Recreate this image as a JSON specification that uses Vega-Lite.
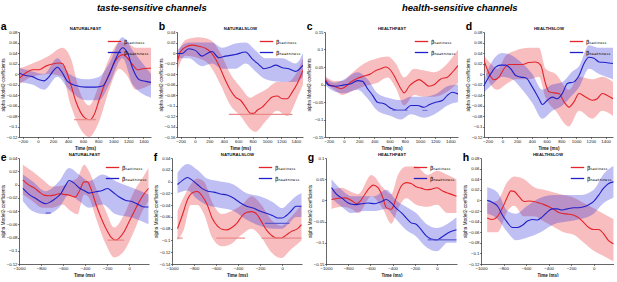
{
"$schema": "https://vega.github.io/schema/vega-lite/v6.json",
"padding": {"left": 0, "top": 2, "right": 0, "bottom": 0},
"background": "white",
"config": {
 "view": {"stroke": null},
 "font": "Liberation Sans",
 "axis": {"labelFontSize": 4.3, "labelFont": "Liberation Sans", "titleFont": "Liberation Sans", "titleFontSize": 4.7, "titleFontWeight": "normal", "tickSize": 1.5, "labelPadding": 0.5, "titlePadding": 0.5, "domainColor": "#000", "tickColor": "#000", "labelColor": "#111", "titleColor": "#111", "domainWidth": 0.6, "tickWidth": 0.5, "grid": false, "labelFlush": false, "labelOverlap": false},
 "axisBottom": {"titleFontWeight": "bold", "titleFontSize": 4.5, "format": "d", "labelPadding": 1, "titlePadding": 1.5},
 "axisTop": {"titleFontWeight": "bold", "titleFontSize": 4.3, "titlePadding": 1.5},
 "title": {"fontSize": 10.5, "fontWeight": "bold", "anchor": "start", "frame": "bounds", "offset": -6, "font": "Liberation Sans", "color": "#000"},
 "legend": {"orient": "top-right", "offset": 2, "symbolType": "stroke", "symbolSize": 180, "symbolStrokeWidth": 1.3, "labelFontSize": 5.5, "labelFont": "DejaVu Sans", "rowPadding": 0, "padding": 0, "labelOffset": 2}
},
"datasets": {
"L": [
{"p":"a","s":"taste","t":-250,"v":-0.009},{"p":"a","s":"taste","t":-161,"v":0.002},{"p":"a","s":"taste","t":-73,"v":0.008},{"p":"a","s":"taste","t":16,"v":0.008},{"p":"a","s":"taste","t":104,"v":0.015},{"p":"a","s":"taste","t":193,"v":0.019},{"p":"a","s":"taste","t":282,"v":0.021},{"p":"a","s":"taste","t":326,"v":0.02},{"p":"a","s":"taste","t":370,"v":0.008},{"p":"a","s":"taste","t":437,"v":-0.02},{"p":"a","s":"taste","t":503,"v":-0.052},{"p":"a","s":"taste","t":570,"v":-0.074},{"p":"a","s":"taste","t":636,"v":-0.085},{"p":"a","s":"taste","t":689,"v":-0.087},{"p":"a","s":"taste","t":747,"v":-0.077},{"p":"a","s":"taste","t":813,"v":-0.049},{"p":"a","s":"taste","t":880,"v":-0.022},{"p":"a","s":"taste","t":946,"v":0.0},{"p":"a","s":"taste","t":1013,"v":0.021},{"p":"a","s":"taste","t":1079,"v":0.034},{"p":"a","s":"taste","t":1132,"v":0.037},{"p":"a","s":"taste","t":1190,"v":0.03},{"p":"a","s":"taste","t":1256,"v":0.018},{"p":"a","s":"taste","t":1323,"v":0.008},{"p":"a","s":"taste","t":1389,"v":0.01},{"p":"a","s":"taste","t":1456,"v":0.011},{"p":"a","s":"taste","t":1500,"v":0.011},
{"p":"a","s":"health","t":-250,"v":0.002},{"p":"a","s":"health","t":-161,"v":-0.003},{"p":"a","s":"health","t":-73,"v":-0.005},{"p":"a","s":"health","t":16,"v":-0.011},{"p":"a","s":"health","t":82,"v":-0.013},{"p":"a","s":"health","t":149,"v":-0.005},{"p":"a","s":"health","t":215,"v":0.008},{"p":"a","s":"health","t":259,"v":0.013},{"p":"a","s":"health","t":326,"v":0.002},{"p":"a","s":"health","t":392,"v":-0.014},{"p":"a","s":"health","t":503,"v":-0.022},{"p":"a","s":"health","t":636,"v":-0.025},{"p":"a","s":"health","t":769,"v":-0.025},{"p":"a","s":"health","t":858,"v":-0.023},{"p":"a","s":"health","t":946,"v":-0.001},{"p":"a","s":"health","t":1035,"v":0.03},{"p":"a","s":"health","t":1123,"v":0.05},{"p":"a","s":"health","t":1190,"v":0.04},{"p":"a","s":"health","t":1256,"v":0.011},{"p":"a","s":"health","t":1345,"v":-0.011},{"p":"a","s":"health","t":1433,"v":-0.014},{"p":"a","s":"health","t":1500,"v":-0.016},
{"p":"b","s":"taste","t":-250,"v":-0.02},{"p":"b","s":"taste","t":-204,"v":0.002},{"p":"b","s":"taste","t":-134,"v":0.011},{"p":"b","s":"taste","t":-41,"v":0.015},{"p":"b","s":"taste","t":52,"v":0.013},{"p":"b","s":"taste","t":145,"v":0.009},{"p":"b","s":"taste","t":214,"v":0.002},{"p":"b","s":"taste","t":284,"v":-0.011},{"p":"b","s":"taste","t":353,"v":-0.03},{"p":"b","s":"taste","t":423,"v":-0.052},{"p":"b","s":"taste","t":493,"v":-0.071},{"p":"b","s":"taste","t":562,"v":-0.084},{"p":"b","s":"taste","t":632,"v":-0.09},{"p":"b","s":"taste","t":702,"v":-0.103},{"p":"b","s":"taste","t":771,"v":-0.115},{"p":"b","s":"taste","t":818,"v":-0.115},{"p":"b","s":"taste","t":864,"v":-0.109},{"p":"b","s":"taste","t":934,"v":-0.103},{"p":"b","s":"taste","t":1003,"v":-0.093},{"p":"b","s":"taste","t":1073,"v":-0.084},{"p":"b","s":"taste","t":1143,"v":-0.082},{"p":"b","s":"taste","t":1212,"v":-0.087},{"p":"b","s":"taste","t":1282,"v":-0.087},{"p":"b","s":"taste","t":1352,"v":-0.074},{"p":"b","s":"taste","t":1421,"v":-0.058},{"p":"b","s":"taste","t":1500,"v":-0.033},
{"p":"b","s":"health","t":-250,"v":-0.001},{"p":"b","s":"health","t":-180,"v":-0.001},{"p":"b","s":"health","t":-88,"v":0.008},{"p":"b","s":"health","t":5,"v":0.005},{"p":"b","s":"health","t":98,"v":-0.006},{"p":"b","s":"health","t":168,"v":-0.001},{"p":"b","s":"health","t":237,"v":0.003},{"p":"b","s":"health","t":330,"v":-0.009},{"p":"b","s":"health","t":423,"v":-0.006},{"p":"b","s":"health","t":562,"v":-0.003},{"p":"b","s":"health","t":702,"v":0.002},{"p":"b","s":"health","t":794,"v":-0.011},{"p":"b","s":"health","t":887,"v":-0.022},{"p":"b","s":"health","t":957,"v":-0.03},{"p":"b","s":"health","t":1050,"v":-0.027},{"p":"b","s":"health","t":1119,"v":-0.023},{"p":"b","s":"health","t":1212,"v":-0.028},{"p":"b","s":"health","t":1305,"v":-0.03},{"p":"b","s":"health","t":1398,"v":-0.035},{"p":"b","s":"health","t":1500,"v":-0.023},
{"p":"c","s":"taste","t":-250,"v":0.016},{"p":"c","s":"taste","t":-193,"v":-0.001},{"p":"c","s":"taste","t":-128,"v":-0.005},{"p":"c","s":"taste","t":-40,"v":-0.012},{"p":"c","s":"taste","t":26,"v":-0.005},{"p":"c","s":"taste","t":91,"v":0.007},{"p":"c","s":"taste","t":179,"v":0.018},{"p":"c","s":"taste","t":266,"v":0.024},{"p":"c","s":"taste","t":354,"v":0.031},{"p":"c","s":"taste","t":419,"v":0.04},{"p":"c","s":"taste","t":485,"v":0.045},{"p":"c","s":"taste","t":551,"v":0.05},{"p":"c","s":"taste","t":616,"v":0.04},{"p":"c","s":"taste","t":682,"v":0.016},{"p":"c","s":"taste","t":748,"v":-0.012},{"p":"c","s":"taste","t":791,"v":-0.024},{"p":"c","s":"taste","t":857,"v":-0.005},{"p":"c","s":"taste","t":923,"v":0.007},{"p":"c","s":"taste","t":988,"v":0.014},{"p":"c","s":"taste","t":1054,"v":0.005},{"p":"c","s":"taste","t":1119,"v":-0.005},{"p":"c","s":"taste","t":1185,"v":-0.001},{"p":"c","s":"taste","t":1273,"v":0.016},{"p":"c","s":"taste","t":1360,"v":0.021},{"p":"c","s":"taste","t":1426,"v":0.035},{"p":"c","s":"taste","t":1500,"v":0.054},
{"p":"c","s":"health","t":-250,"v":0.011},{"p":"c","s":"health","t":-193,"v":-0.003},{"p":"c","s":"health","t":-106,"v":-0.005},{"p":"c","s":"health","t":4,"v":-0.001},{"p":"c","s":"health","t":91,"v":0.002},{"p":"c","s":"health","t":179,"v":0.011},{"p":"c","s":"health","t":244,"v":0.009},{"p":"c","s":"health","t":310,"v":-0.012},{"p":"c","s":"health","t":376,"v":-0.031},{"p":"c","s":"health","t":441,"v":-0.051},{"p":"c","s":"health","t":529,"v":-0.055},{"p":"c","s":"health","t":616,"v":-0.068},{"p":"c","s":"health","t":704,"v":-0.074},{"p":"c","s":"health","t":791,"v":-0.074},{"p":"c","s":"health","t":879,"v":-0.06},{"p":"c","s":"health","t":966,"v":-0.06},{"p":"c","s":"health","t":1054,"v":-0.065},{"p":"c","s":"health","t":1119,"v":-0.058},{"p":"c","s":"health","t":1207,"v":-0.051},{"p":"c","s":"health","t":1294,"v":-0.046},{"p":"c","s":"health","t":1360,"v":-0.031},{"p":"c","s":"health","t":1426,"v":-0.022},{"p":"c","s":"health","t":1500,"v":-0.027},
{"p":"d","s":"taste","t":-250,"v":0.026},{"p":"d","s":"taste","t":-182,"v":0.001},{"p":"d","s":"taste","t":-114,"v":-0.011},{"p":"d","s":"taste","t":-47,"v":-0.006},{"p":"d","s":"taste","t":21,"v":0.01},{"p":"d","s":"taste","t":89,"v":0.018},{"p":"d","s":"taste","t":180,"v":0.018},{"p":"d","s":"taste","t":270,"v":0.018},{"p":"d","s":"taste","t":360,"v":0.022},{"p":"d","s":"taste","t":451,"v":0.023},{"p":"d","s":"taste","t":519,"v":0.017},{"p":"d","s":"taste","t":578,"v":-0.015},{"p":"d","s":"taste","t":632,"v":-0.034},{"p":"d","s":"taste","t":700,"v":-0.036},{"p":"d","s":"taste","t":767,"v":-0.037},{"p":"d","s":"taste","t":835,"v":-0.053},{"p":"d","s":"taste","t":903,"v":-0.063},{"p":"d","s":"taste","t":971,"v":-0.053},{"p":"d","s":"taste","t":1039,"v":-0.037},{"p":"d","s":"taste","t":1129,"v":-0.044},{"p":"d","s":"taste","t":1220,"v":-0.05},{"p":"d","s":"taste","t":1287,"v":-0.047},{"p":"d","s":"taste","t":1355,"v":-0.037},{"p":"d","s":"taste","t":1423,"v":-0.041},{"p":"d","s":"taste","t":1500,"v":-0.047},
{"p":"d","s":"health","t":-250,"v":-0.022},{"p":"d","s":"health","t":-160,"v":0.0},{"p":"d","s":"health","t":-92,"v":0.013},{"p":"d","s":"health","t":-24,"v":0.017},{"p":"d","s":"health","t":44,"v":0.017},{"p":"d","s":"health","t":112,"v":0.01},{"p":"d","s":"health","t":180,"v":-0.003},{"p":"d","s":"health","t":247,"v":-0.006},{"p":"d","s":"health","t":315,"v":-0.007},{"p":"d","s":"health","t":406,"v":-0.025},{"p":"d","s":"health","t":496,"v":-0.047},{"p":"d","s":"health","t":541,"v":-0.058},{"p":"d","s":"health","t":609,"v":-0.05},{"p":"d","s":"health","t":677,"v":-0.044},{"p":"d","s":"health","t":745,"v":-0.047},{"p":"d","s":"health","t":813,"v":-0.037},{"p":"d","s":"health","t":881,"v":-0.018},{"p":"d","s":"health","t":971,"v":-0.015},{"p":"d","s":"health","t":1039,"v":-0.003},{"p":"d","s":"health","t":1107,"v":0.02},{"p":"d","s":"health","t":1174,"v":0.032},{"p":"d","s":"health","t":1242,"v":0.03},{"p":"d","s":"health","t":1310,"v":0.023},{"p":"d","s":"health","t":1400,"v":0.022},{"p":"d","s":"health","t":1500,"v":0.02},
{"p":"e","s":"taste","t":-965,"v":0.007},{"p":"e","s":"taste","t":-909,"v":-0.001},{"p":"e","s":"taste","t":-864,"v":-0.005},{"p":"e","s":"taste","t":-818,"v":-0.011},{"p":"e","s":"taste","t":-773,"v":-0.016},{"p":"e","s":"taste","t":-727,"v":-0.017},{"p":"e","s":"taste","t":-682,"v":-0.016},{"p":"e","s":"taste","t":-636,"v":-0.014},{"p":"e","s":"taste","t":-591,"v":-0.015},{"p":"e","s":"taste","t":-545,"v":-0.016},{"p":"e","s":"taste","t":-491,"v":-0.019},{"p":"e","s":"taste","t":-455,"v":-0.011},{"p":"e","s":"taste","t":-409,"v":0.004},{"p":"e","s":"taste","t":-379,"v":0.004},{"p":"e","s":"taste","t":-348,"v":-0.006},{"p":"e","s":"taste","t":-303,"v":-0.029},{"p":"e","s":"taste","t":-258,"v":-0.049},{"p":"e","s":"taste","t":-212,"v":-0.066},{"p":"e","s":"taste","t":-167,"v":-0.079},{"p":"e","s":"taste","t":-121,"v":-0.084},{"p":"e","s":"taste","t":-91,"v":-0.081},{"p":"e","s":"taste","t":-45,"v":-0.071},{"p":"e","s":"taste","t":0,"v":-0.056},{"p":"e","s":"taste","t":45,"v":-0.041},{"p":"e","s":"taste","t":91,"v":-0.026},{"p":"e","s":"taste","t":136,"v":-0.014},{"p":"e","s":"taste","t":175,"v":-0.006},
{"p":"e","s":"health","t":-965,"v":-0.006},{"p":"e","s":"health","t":-909,"v":-0.015},{"p":"e","s":"health","t":-848,"v":-0.021},{"p":"e","s":"health","t":-803,"v":-0.026},{"p":"e","s":"health","t":-758,"v":-0.029},{"p":"e","s":"health","t":-712,"v":-0.026},{"p":"e","s":"health","t":-667,"v":-0.021},{"p":"e","s":"health","t":-621,"v":-0.014},{"p":"e","s":"health","t":-576,"v":-0.001},{"p":"e","s":"health","t":-545,"v":0.006},{"p":"e","s":"health","t":-500,"v":0.002},{"p":"e","s":"health","t":-455,"v":-0.005},{"p":"e","s":"health","t":-409,"v":-0.009},{"p":"e","s":"health","t":-364,"v":-0.013},{"p":"e","s":"health","t":-303,"v":-0.011},{"p":"e","s":"health","t":-242,"v":-0.009},{"p":"e","s":"health","t":-197,"v":-0.006},{"p":"e","s":"health","t":-152,"v":-0.011},{"p":"e","s":"health","t":-91,"v":-0.019},{"p":"e","s":"health","t":-30,"v":-0.024},{"p":"e","s":"health","t":30,"v":-0.026},{"p":"e","s":"health","t":91,"v":-0.031},{"p":"e","s":"health","t":136,"v":-0.034},{"p":"e","s":"health","t":175,"v":-0.034},
{"p":"f","s":"taste","t":-950,"v":-0.08},{"p":"f","s":"taste","t":-904,"v":-0.056},{"p":"f","s":"taste","t":-860,"v":-0.031},{"p":"f","s":"taste","t":-815,"v":-0.019},{"p":"f","s":"taste","t":-770,"v":-0.017},{"p":"f","s":"taste","t":-725,"v":-0.025},{"p":"f","s":"taste","t":-681,"v":-0.039},{"p":"f","s":"taste","t":-636,"v":-0.062},{"p":"f","s":"taste","t":-591,"v":-0.075},{"p":"f","s":"taste","t":-546,"v":-0.081},{"p":"f","s":"taste","t":-501,"v":-0.082},{"p":"f","s":"taste","t":-457,"v":-0.078},{"p":"f","s":"taste","t":-412,"v":-0.071},{"p":"f","s":"taste","t":-367,"v":-0.059},{"p":"f","s":"taste","t":-322,"v":-0.052},{"p":"f","s":"taste","t":-278,"v":-0.051},{"p":"f","s":"taste","t":-233,"v":-0.055},{"p":"f","s":"taste","t":-188,"v":-0.068},{"p":"f","s":"taste","t":-143,"v":-0.082},{"p":"f","s":"taste","t":-99,"v":-0.091},{"p":"f","s":"taste","t":-54,"v":-0.096},{"p":"f","s":"taste","t":-9,"v":-0.096},{"p":"f","s":"taste","t":36,"v":-0.091},{"p":"f","s":"taste","t":81,"v":-0.085},{"p":"f","s":"taste","t":140,"v":-0.08},{"p":"f","s":"taste","t":175,"v":-0.073},
{"p":"f","s":"health","t":-950,"v":-0.005},{"p":"f","s":"health","t":-904,"v":0.002},{"p":"f","s":"health","t":-860,"v":0.007},{"p":"f","s":"health","t":-815,"v":0.002},{"p":"f","s":"health","t":-770,"v":-0.005},{"p":"f","s":"health","t":-725,"v":-0.012},{"p":"f","s":"health","t":-681,"v":-0.016},{"p":"f","s":"health","t":-621,"v":-0.018},{"p":"f","s":"health","t":-561,"v":-0.021},{"p":"f","s":"health","t":-501,"v":-0.023},{"p":"f","s":"health","t":-442,"v":-0.028},{"p":"f","s":"health","t":-382,"v":-0.036},{"p":"f","s":"health","t":-322,"v":-0.042},{"p":"f","s":"health","t":-263,"v":-0.045},{"p":"f","s":"health","t":-203,"v":-0.05},{"p":"f","s":"health","t":-143,"v":-0.054},{"p":"f","s":"health","t":-84,"v":-0.058},{"p":"f","s":"health","t":-39,"v":-0.062},{"p":"f","s":"health","t":0,"v":-0.062},{"p":"f","s":"health","t":36,"v":-0.058},{"p":"f","s":"health","t":81,"v":-0.05},{"p":"f","s":"health","t":125,"v":-0.042},{"p":"f","s":"health","t":175,"v":-0.042},
{"p":"g","s":"taste","t":-950,"v":0.002},{"p":"g","s":"taste","t":-890,"v":0.005},{"p":"g","s":"taste","t":-830,"v":0.006},{"p":"g","s":"taste","t":-770,"v":0.0},{"p":"g","s":"taste","t":-725,"v":-0.008},{"p":"g","s":"taste","t":-695,"v":-0.003},{"p":"g","s":"taste","t":-651,"v":0.014},{"p":"g","s":"taste","t":-606,"v":0.03},{"p":"g","s":"taste","t":-576,"v":0.036},{"p":"g","s":"taste","t":-531,"v":0.03},{"p":"g","s":"taste","t":-487,"v":0.006},{"p":"g","s":"taste","t":-457,"v":-0.017},{"p":"g","s":"taste","t":-412,"v":-0.021},{"p":"g","s":"taste","t":-367,"v":0.006},{"p":"g","s":"taste","t":-322,"v":0.034},{"p":"g","s":"taste","t":-278,"v":0.042},{"p":"g","s":"taste","t":-233,"v":0.04},{"p":"g","s":"taste","t":-188,"v":0.032},{"p":"g","s":"taste","t":-143,"v":0.029},{"p":"g","s":"taste","t":-99,"v":0.025},{"p":"g","s":"taste","t":-54,"v":0.026},{"p":"g","s":"taste","t":0,"v":0.03},{"p":"g","s":"taste","t":51,"v":0.022},{"p":"g","s":"taste","t":110,"v":0.016},{"p":"g","s":"taste","t":175,"v":0.01},
{"p":"g","s":"health","t":-950,"v":0.03},{"p":"g","s":"health","t":-904,"v":0.014},{"p":"g","s":"health","t":-860,"v":0.006},{"p":"g","s":"health","t":-800,"v":-0.006},{"p":"g","s":"health","t":-740,"v":-0.01},{"p":"g","s":"health","t":-681,"v":-0.008},{"p":"g","s":"health","t":-621,"v":-0.006},{"p":"g","s":"health","t":-561,"v":-0.008},{"p":"g","s":"health","t":-501,"v":-0.003},{"p":"g","s":"health","t":-457,"v":0.002},{"p":"g","s":"health","t":-412,"v":-0.006},{"p":"g","s":"health","t":-367,"v":-0.019},{"p":"g","s":"health","t":-322,"v":-0.029},{"p":"g","s":"health","t":-278,"v":-0.041},{"p":"g","s":"health","t":-233,"v":-0.053},{"p":"g","s":"health","t":-188,"v":-0.056},{"p":"g","s":"health","t":-143,"v":-0.069},{"p":"g","s":"health","t":-99,"v":-0.083},{"p":"g","s":"health","t":-54,"v":-0.091},{"p":"g","s":"health","t":0,"v":-0.093},{"p":"g","s":"health","t":51,"v":-0.085},{"p":"g","s":"health","t":110,"v":-0.075},{"p":"g","s":"health","t":175,"v":-0.069},
{"p":"h","s":"taste","t":-945,"v":-0.033},{"p":"h","s":"taste","t":-897,"v":-0.036},{"p":"h","s":"taste","t":-853,"v":-0.03},{"p":"h","s":"taste","t":-809,"v":-0.014},{"p":"h","s":"taste","t":-765,"v":0.007},{"p":"h","s":"taste","t":-735,"v":0.018},{"p":"h","s":"taste","t":-706,"v":0.017},{"p":"h","s":"taste","t":-662,"v":0.007},{"p":"h","s":"taste","t":-618,"v":-0.002},{"p":"h","s":"taste","t":-574,"v":-0.001},{"p":"h","s":"taste","t":-529,"v":-0.002},{"p":"h","s":"taste","t":-485,"v":-0.005},{"p":"h","s":"taste","t":-441,"v":-0.008},{"p":"h","s":"taste","t":-397,"v":-0.012},{"p":"h","s":"taste","t":-353,"v":-0.017},{"p":"h","s":"taste","t":-309,"v":-0.023},{"p":"h","s":"taste","t":-265,"v":-0.025},{"p":"h","s":"taste","t":-221,"v":-0.026},{"p":"h","s":"taste","t":-176,"v":-0.028},{"p":"h","s":"taste","t":-132,"v":-0.033},{"p":"h","s":"taste","t":-88,"v":-0.042},{"p":"h","s":"taste","t":-44,"v":-0.051},{"p":"h","s":"taste","t":0,"v":-0.055},{"p":"h","s":"taste","t":44,"v":-0.055},{"p":"h","s":"taste","t":88,"v":-0.063},{"p":"h","s":"taste","t":132,"v":-0.076},{"p":"h","s":"taste","t":175,"v":-0.082},
{"p":"h","s":"health","t":-945,"v":0.0},{"p":"h","s":"health","t":-897,"v":-0.004},{"p":"h","s":"health","t":-853,"v":-0.011},{"p":"h","s":"health","t":-809,"v":-0.028},{"p":"h","s":"health","t":-765,"v":-0.042},{"p":"h","s":"health","t":-721,"v":-0.051},{"p":"h","s":"health","t":-676,"v":-0.051},{"p":"h","s":"health","t":-632,"v":-0.047},{"p":"h","s":"health","t":-588,"v":-0.039},{"p":"h","s":"health","t":-544,"v":-0.036},{"p":"h","s":"health","t":-500,"v":-0.037},{"p":"h","s":"health","t":-456,"v":-0.031},{"p":"h","s":"health","t":-412,"v":-0.022},{"p":"h","s":"health","t":-368,"v":-0.016},{"p":"h","s":"health","t":-324,"v":-0.016},{"p":"h","s":"health","t":-279,"v":-0.018},{"p":"h","s":"health","t":-235,"v":-0.016},{"p":"h","s":"health","t":-176,"v":-0.014},{"p":"h","s":"health","t":-132,"v":-0.014},{"p":"h","s":"health","t":-88,"v":-0.012},{"p":"h","s":"health","t":-44,"v":-0.008},{"p":"h","s":"health","t":0,"v":-0.002},{"p":"h","s":"health","t":44,"v":0.01},{"p":"h","s":"health","t":88,"v":0.023},{"p":"h","s":"health","t":132,"v":0.032},{"p":"h","s":"health","t":175,"v":0.035}
],
"B": [
{"p":"a","s":"taste","t":-250,"lo":-0.02,"hi":0.01},{"p":"a","s":"taste","t":-73,"lo":-0.005,"hi":0.02},{"p":"a","s":"taste","t":149,"lo":0.0,"hi":0.035},{"p":"a","s":"taste","t":326,"lo":-0.005,"hi":0.05},{"p":"a","s":"taste","t":437,"lo":-0.06,"hi":0.03},{"p":"a","s":"taste","t":547,"lo":-0.1,"hi":-0.03},{"p":"a","s":"taste","t":680,"lo":-0.12,"hi":-0.06},{"p":"a","s":"taste","t":813,"lo":-0.09,"hi":-0.02},{"p":"a","s":"taste","t":946,"lo":-0.03,"hi":0.03},{"p":"a","s":"taste","t":1079,"lo":0.01,"hi":0.06},{"p":"a","s":"taste","t":1168,"lo":0.0,"hi":0.06},{"p":"a","s":"taste","t":1300,"lo":-0.03,"hi":0.05},{"p":"a","s":"taste","t":1500,"lo":-0.02,"hi":0.05},
{"p":"a","s":"health","t":-250,"lo":-0.015,"hi":0.012},{"p":"a","s":"health","t":-73,"lo":-0.02,"hi":0.005},{"p":"a","s":"health","t":82,"lo":-0.03,"hi":0.0},{"p":"a","s":"health","t":259,"lo":-0.005,"hi":0.03},{"p":"a","s":"health","t":415,"lo":-0.03,"hi":0.0},{"p":"a","s":"health","t":636,"lo":-0.05,"hi":-0.01},{"p":"a","s":"health","t":813,"lo":-0.05,"hi":-0.005},{"p":"a","s":"health","t":946,"lo":-0.02,"hi":0.02},{"p":"a","s":"health","t":1123,"lo":0.03,"hi":0.07},{"p":"a","s":"health","t":1256,"lo":-0.02,"hi":0.045},{"p":"a","s":"health","t":1500,"lo":-0.045,"hi":0.0},
{"p":"b","s":"taste","t":-250,"lo":-0.035,"hi":-0.005},{"p":"b","s":"taste","t":-134,"lo":-0.005,"hi":0.025},{"p":"b","s":"taste","t":52,"lo":-0.01,"hi":0.03},{"p":"b","s":"taste","t":214,"lo":-0.025,"hi":0.025},{"p":"b","s":"taste","t":353,"lo":-0.06,"hi":0.0},{"p":"b","s":"taste","t":493,"lo":-0.1,"hi":-0.04},{"p":"b","s":"taste","t":632,"lo":-0.12,"hi":-0.065},{"p":"b","s":"taste","t":771,"lo":-0.145,"hi":-0.085},{"p":"b","s":"taste","t":841,"lo":-0.15,"hi":-0.08},{"p":"b","s":"taste","t":980,"lo":-0.13,"hi":-0.07},{"p":"b","s":"taste","t":1143,"lo":-0.11,"hi":-0.055},{"p":"b","s":"taste","t":1282,"lo":-0.12,"hi":-0.055},{"p":"b","s":"taste","t":1421,"lo":-0.085,"hi":-0.035},{"p":"b","s":"taste","t":1500,"lo":-0.06,"hi":-0.01},
{"p":"b","s":"health","t":-250,"lo":-0.01,"hi":0.005},{"p":"b","s":"health","t":-88,"lo":-0.01,"hi":0.02},{"p":"b","s":"health","t":98,"lo":-0.025,"hi":0.02},{"p":"b","s":"health","t":237,"lo":-0.02,"hi":0.02},{"p":"b","s":"health","t":377,"lo":-0.03,"hi":0.01},{"p":"b","s":"health","t":562,"lo":-0.03,"hi":0.018},{"p":"b","s":"health","t":702,"lo":-0.02,"hi":0.02},{"p":"b","s":"health","t":841,"lo":-0.035,"hi":0.005},{"p":"b","s":"health","t":980,"lo":-0.05,"hi":-0.01},{"p":"b","s":"health","t":1212,"lo":-0.055,"hi":-0.01},{"p":"b","s":"health","t":1398,"lo":-0.055,"hi":-0.02},{"p":"b","s":"health","t":1500,"lo":-0.045,"hi":0.0},
{"p":"c","s":"taste","t":-250,"lo":0.005,"hi":0.025},{"p":"c","s":"taste","t":-128,"lo":-0.015,"hi":0.01},{"p":"c","s":"taste","t":-18,"lo":-0.03,"hi":0.01},{"p":"c","s":"taste","t":91,"lo":-0.02,"hi":0.03},{"p":"c","s":"taste","t":266,"lo":-0.005,"hi":0.06},{"p":"c","s":"taste","t":441,"lo":0.005,"hi":0.075},{"p":"c","s":"taste","t":573,"lo":0.02,"hi":0.08},{"p":"c","s":"taste","t":682,"lo":-0.01,"hi":0.06},{"p":"c","s":"taste","t":791,"lo":-0.06,"hi":0.02},{"p":"c","s":"taste","t":923,"lo":-0.03,"hi":0.045},{"p":"c","s":"taste","t":1054,"lo":-0.035,"hi":0.04},{"p":"c","s":"taste","t":1185,"lo":-0.035,"hi":0.035},{"p":"c","s":"taste","t":1360,"lo":-0.02,"hi":0.06},{"p":"c","s":"taste","t":1500,"lo":0.005,"hi":0.1},
{"p":"c","s":"health","t":-250,"lo":0.0,"hi":0.02},{"p":"c","s":"health","t":-128,"lo":-0.02,"hi":0.005},{"p":"c","s":"health","t":4,"lo":-0.025,"hi":0.015},{"p":"c","s":"health","t":179,"lo":-0.015,"hi":0.035},{"p":"c","s":"health","t":310,"lo":-0.04,"hi":0.015},{"p":"c","s":"health","t":441,"lo":-0.075,"hi":-0.025},{"p":"c","s":"health","t":616,"lo":-0.09,"hi":-0.04},{"p":"c","s":"health","t":748,"lo":-0.1,"hi":-0.045},{"p":"c","s":"health","t":879,"lo":-0.085,"hi":-0.035},{"p":"c","s":"health","t":1054,"lo":-0.095,"hi":-0.035},{"p":"c","s":"health","t":1229,"lo":-0.08,"hi":-0.025},{"p":"c","s":"health","t":1360,"lo":-0.06,"hi":-0.005},{"p":"c","s":"health","t":1500,"lo":-0.05,"hi":0.0},
{"p":"d","s":"taste","t":-250,"lo":0.01,"hi":0.035},{"p":"d","s":"taste","t":-160,"lo":-0.02,"hi":0.02},{"p":"d","s":"taste","t":-69,"lo":-0.03,"hi":0.01},{"p":"d","s":"taste","t":44,"lo":-0.02,"hi":0.035},{"p":"d","s":"taste","t":180,"lo":-0.01,"hi":0.045},{"p":"d","s":"taste","t":360,"lo":-0.01,"hi":0.05},{"p":"d","s":"taste","t":496,"lo":-0.005,"hi":0.05},{"p":"d","s":"taste","t":587,"lo":-0.045,"hi":0.01},{"p":"d","s":"taste","t":722,"lo":-0.07,"hi":0.0},{"p":"d","s":"taste","t":903,"lo":-0.1,"hi":-0.03},{"p":"d","s":"taste","t":1039,"lo":-0.07,"hi":-0.005},{"p":"d","s":"taste","t":1220,"lo":-0.085,"hi":-0.01},{"p":"d","s":"taste","t":1355,"lo":-0.07,"hi":-0.005},{"p":"d","s":"taste","t":1500,"lo":-0.08,"hi":-0.015},
{"p":"d","s":"health","t":-250,"lo":-0.035,"hi":-0.01},{"p":"d","s":"health","t":-137,"lo":-0.02,"hi":0.025},{"p":"d","s":"health","t":-1,"lo":-0.005,"hi":0.04},{"p":"d","s":"health","t":134,"lo":-0.01,"hi":0.035},{"p":"d","s":"health","t":270,"lo":-0.03,"hi":0.02},{"p":"d","s":"health","t":406,"lo":-0.055,"hi":0.0},{"p":"d","s":"health","t":541,"lo":-0.085,"hi":-0.03},{"p":"d","s":"health","t":677,"lo":-0.07,"hi":-0.02},{"p":"d","s":"health","t":813,"lo":-0.06,"hi":-0.015},{"p":"d","s":"health","t":948,"lo":-0.04,"hi":0.005},{"p":"d","s":"health","t":1039,"lo":-0.025,"hi":0.015},{"p":"d","s":"health","t":1174,"lo":0.01,"hi":0.055},{"p":"d","s":"health","t":1310,"lo":0.0,"hi":0.05},{"p":"d","s":"health","t":1500,"lo":-0.01,"hi":0.05},
{"p":"e","s":"taste","t":-965,"lo":-0.015,"hi":0.03},{"p":"e","s":"taste","t":-879,"lo":-0.025,"hi":0.02},{"p":"e","s":"taste","t":-788,"lo":-0.035,"hi":0.008},{"p":"e","s":"taste","t":-697,"lo":-0.035,"hi":-0.003},{"p":"e","s":"taste","t":-606,"lo":-0.03,"hi":-0.002},{"p":"e","s":"taste","t":-530,"lo":-0.04,"hi":0.005},{"p":"e","s":"taste","t":-470,"lo":-0.045,"hi":0.01},{"p":"e","s":"taste","t":-409,"lo":-0.015,"hi":0.03},{"p":"e","s":"taste","t":-364,"lo":-0.02,"hi":0.02},{"p":"e","s":"taste","t":-303,"lo":-0.05,"hi":-0.005},{"p":"e","s":"taste","t":-212,"lo":-0.09,"hi":-0.04},{"p":"e","s":"taste","t":-136,"lo":-0.11,"hi":-0.065},{"p":"e","s":"taste","t":-45,"lo":-0.1,"hi":-0.045},{"p":"e","s":"taste","t":45,"lo":-0.07,"hi":-0.01},{"p":"e","s":"taste","t":121,"lo":-0.04,"hi":0.01},{"p":"e","s":"taste","t":175,"lo":-0.025,"hi":0.025},
{"p":"e","s":"health","t":-965,"lo":-0.025,"hi":0.015},{"p":"e","s":"health","t":-879,"lo":-0.04,"hi":0.005},{"p":"e","s":"health","t":-758,"lo":-0.045,"hi":-0.01},{"p":"e","s":"health","t":-636,"lo":-0.035,"hi":0.005},{"p":"e","s":"health","t":-545,"lo":-0.015,"hi":0.025},{"p":"e","s":"health","t":-455,"lo":-0.025,"hi":0.015},{"p":"e","s":"health","t":-364,"lo":-0.035,"hi":0.005},{"p":"e","s":"health","t":-242,"lo":-0.03,"hi":0.015},{"p":"e","s":"health","t":-121,"lo":-0.045,"hi":0.005},{"p":"e","s":"health","t":30,"lo":-0.05,"hi":-0.005},{"p":"e","s":"health","t":175,"lo":-0.06,"hi":-0.015},
{"p":"f","s":"taste","t":-950,"lo":-0.1,"hi":-0.05},{"p":"f","s":"taste","t":-890,"lo":-0.08,"hi":-0.025},{"p":"f","s":"taste","t":-830,"lo":-0.04,"hi":-0.005},{"p":"f","s":"taste","t":-770,"lo":-0.04,"hi":0.005},{"p":"f","s":"taste","t":-710,"lo":-0.055,"hi":0.0},{"p":"f","s":"taste","t":-636,"lo":-0.095,"hi":-0.035},{"p":"f","s":"taste","t":-546,"lo":-0.11,"hi":-0.055},{"p":"f","s":"taste","t":-457,"lo":-0.105,"hi":-0.05},{"p":"f","s":"taste","t":-367,"lo":-0.09,"hi":-0.04},{"p":"f","s":"taste","t":-278,"lo":-0.08,"hi":-0.025},{"p":"f","s":"taste","t":-188,"lo":-0.095,"hi":-0.04},{"p":"f","s":"taste","t":-99,"lo":-0.12,"hi":-0.065},{"p":"f","s":"taste","t":-9,"lo":-0.13,"hi":-0.075},{"p":"f","s":"taste","t":81,"lo":-0.115,"hi":-0.06},{"p":"f","s":"taste","t":175,"lo":-0.1,"hi":-0.04},
{"p":"f","s":"health","t":-950,"lo":-0.02,"hi":0.015},{"p":"f","s":"health","t":-860,"lo":-0.015,"hi":0.03},{"p":"f","s":"health","t":-770,"lo":-0.03,"hi":0.02},{"p":"f","s":"health","t":-681,"lo":-0.04,"hi":0.005},{"p":"f","s":"health","t":-561,"lo":-0.045,"hi":0.0},{"p":"f","s":"health","t":-442,"lo":-0.05,"hi":-0.005},{"p":"f","s":"health","t":-322,"lo":-0.065,"hi":-0.02},{"p":"f","s":"health","t":-203,"lo":-0.075,"hi":-0.025},{"p":"f","s":"health","t":-84,"lo":-0.08,"hi":-0.035},{"p":"f","s":"health","t":0,"lo":-0.08,"hi":-0.045},{"p":"f","s":"health","t":66,"lo":-0.07,"hi":-0.035},{"p":"f","s":"health","t":125,"lo":-0.06,"hi":-0.025},{"p":"f","s":"health","t":175,"lo":-0.06,"hi":-0.02},
{"p":"g","s":"taste","t":-950,"lo":-0.02,"hi":0.025},{"p":"g","s":"taste","t":-860,"lo":-0.015,"hi":0.03},{"p":"g","s":"taste","t":-770,"lo":-0.02,"hi":0.02},{"p":"g","s":"taste","t":-710,"lo":-0.03,"hi":0.015},{"p":"g","s":"taste","t":-591,"lo":0.01,"hi":0.06},{"p":"g","s":"taste","t":-487,"lo":-0.02,"hi":0.03},{"p":"g","s":"taste","t":-412,"lo":-0.055,"hi":0.015},{"p":"g","s":"taste","t":-352,"lo":-0.02,"hi":0.06},{"p":"g","s":"taste","t":-278,"lo":0.005,"hi":0.08},{"p":"g","s":"taste","t":-188,"lo":-0.01,"hi":0.08},{"p":"g","s":"taste","t":-84,"lo":-0.015,"hi":0.06},{"p":"g","s":"taste","t":0,"lo":-0.01,"hi":0.07},{"p":"g","s":"taste","t":96,"lo":-0.03,"hi":0.06},{"p":"g","s":"taste","t":175,"lo":-0.03,"hi":0.05},
{"p":"g","s":"health","t":-950,"lo":0.005,"hi":0.05},{"p":"g","s":"health","t":-860,"lo":-0.015,"hi":0.025},{"p":"g","s":"health","t":-770,"lo":-0.03,"hi":0.01},{"p":"g","s":"health","t":-651,"lo":-0.025,"hi":0.01},{"p":"g","s":"health","t":-561,"lo":-0.025,"hi":0.01},{"p":"g","s":"health","t":-457,"lo":-0.02,"hi":0.025},{"p":"g","s":"health","t":-367,"lo":-0.045,"hi":0.0},{"p":"g","s":"health","t":-278,"lo":-0.07,"hi":-0.015},{"p":"g","s":"health","t":-188,"lo":-0.085,"hi":-0.03},{"p":"g","s":"health","t":-99,"lo":-0.11,"hi":-0.055},{"p":"g","s":"health","t":0,"lo":-0.12,"hi":-0.065},{"p":"g","s":"health","t":96,"lo":-0.1,"hi":-0.055},{"p":"g","s":"health","t":175,"lo":-0.1,"hi":-0.04},
{"p":"h","s":"taste","t":-945,"lo":-0.06,"hi":-0.005},{"p":"h","s":"taste","t":-853,"lo":-0.06,"hi":0.0},{"p":"h","s":"taste","t":-765,"lo":-0.02,"hi":0.035},{"p":"h","s":"taste","t":-706,"lo":-0.01,"hi":0.045},{"p":"h","s":"taste","t":-618,"lo":-0.03,"hi":0.04},{"p":"h","s":"taste","t":-529,"lo":-0.03,"hi":0.025},{"p":"h","s":"taste","t":-441,"lo":-0.04,"hi":0.02},{"p":"h","s":"taste","t":-353,"lo":-0.05,"hi":0.015},{"p":"h","s":"taste","t":-265,"lo":-0.06,"hi":0.01},{"p":"h","s":"taste","t":-176,"lo":-0.065,"hi":0.005},{"p":"h","s":"taste","t":-88,"lo":-0.08,"hi":-0.005},{"p":"h","s":"taste","t":0,"lo":-0.095,"hi":-0.015},{"p":"h","s":"taste","t":88,"lo":-0.105,"hi":-0.025},{"p":"h","s":"taste","t":175,"lo":-0.115,"hi":-0.035},
{"p":"h","s":"health","t":-945,"lo":-0.025,"hi":0.025},{"p":"h","s":"health","t":-853,"lo":-0.035,"hi":0.015},{"p":"h","s":"health","t":-765,"lo":-0.06,"hi":-0.02},{"p":"h","s":"health","t":-691,"lo":-0.075,"hi":-0.025},{"p":"h","s":"health","t":-588,"lo":-0.07,"hi":-0.01},{"p":"h","s":"health","t":-471,"lo":-0.06,"hi":0.005},{"p":"h","s":"health","t":-353,"lo":-0.045,"hi":0.01},{"p":"h","s":"health","t":-235,"lo":-0.04,"hi":0.01},{"p":"h","s":"health","t":-118,"lo":-0.035,"hi":0.01},{"p":"h","s":"health","t":0,"lo":-0.025,"hi":0.02},{"p":"h","s":"health","t":88,"lo":-0.005,"hi":0.05},{"p":"h","s":"health","t":175,"lo":0.005,"hi":0.065}
],
"S": [
{"p":"a","s":"taste","t1":480,"t2":770,"v":-0.087},
{"p":"b","s":"taste","t1":470,"t2":1352,"v":-0.117},
{"p":"c","s":"health","t1":638,"t2":835,"v":-0.074},{"p":"c","s":"health","t1":1032,"t2":1098,"v":-0.074},
{"p":"e","s":"taste","t1":-197,"t2":-45,"v":-0.084},{"p":"e","s":"health","t1":-758,"t2":-712,"v":-0.043},
{"p":"f","s":"taste","t1":-955,"t2":-904,"v":-0.096},{"p":"f","s":"taste","t1":-597,"t2":-337,"v":-0.096},{"p":"f","s":"taste","t1":-188,"t2":175,"v":-0.096},{"p":"f","s":"health","t1":-158,"t2":66,"v":-0.071},
{"p":"g","s":"health","t1":-84,"t2":175,"v":-0.093}
]
},
"vconcat": [
 {"hconcat": [
  {"title": {"text": "taste-sensitive channels", "anchor": "middle", "frame": "bounds", "fontStyle": "italic", "fontSize": 9.5, "offset": 10},
   "hconcat": [
    {"width": 132, "height": 105, "title": {"text": "a"}, "resolve": {"axis": {"x": "independent"}},
     "layer": [
      {"data": {"name": "B"}, "transform": [{"filter": "datum.p == 'a' && datum.s == 'taste'"}], "mark": {"type": "area", "opacity": 0.3, "color": "#e8262b", "interpolate": "monotone", "clip": true},
       "encoding": {"x": {"field": "t", "type": "quantitative", "scale": {"domain": [-250, 1500], "nice": false, "zero": false}, "axis": {"orient": "bottom", "values": [-200,0,200,400,600,800,1000,1200,1400], "title": "Time (ms)"}},
        "y": {"field": "lo", "type": "quantitative", "scale": {"domain": [-0.12, 0.08], "nice": false, "zero": false}, "axis": {"values": [-0.12,-0.1,-0.08,-0.06,-0.04,-0.02,0,0.02,0.04,0.06,0.08], "format": ".2~f", "title": "alpha Model2-coefficients"}},
        "y2": {"field": "hi"}}},
      {"data": {"name": "B"}, "transform": [{"filter": "datum.p == 'a' && datum.s == 'health'"}], "mark": {"type": "area", "opacity": 0.3, "color": "#2b2bd6", "interpolate": "monotone", "clip": true},
       "encoding": {"x": {"field": "t", "type": "quantitative", "scale": {"domain": [-250, 1500], "nice": false, "zero": false}, "axis": null},
        "y": {"field": "lo", "type": "quantitative", "scale": {"domain": [-0.12, 0.08], "nice": false, "zero": false}, "axis": {"values": [-0.12,-0.1,-0.08,-0.06,-0.04,-0.02,0,0.02,0.04,0.06,0.08], "format": ".2~f", "title": "alpha Model2-coefficients"}},
        "y2": {"field": "hi"}}},
      {"data": {"name": "L"}, "transform": [{"filter": "datum.p == 'a'"}], "mark": {"type": "line", "strokeWidth": 1.1, "interpolate": "monotone", "clip": true},
       "encoding": {"x": {"field": "t", "type": "quantitative", "scale": {"domain": [-250, 1500], "nice": false, "zero": false}, "axis": null},
        "y": {"field": "v", "type": "quantitative", "scale": {"domain": [-0.12, 0.08], "nice": false, "zero": false}, "axis": {"values": [-0.12,-0.1,-0.08,-0.06,-0.04,-0.02,0,0.02,0.04,0.06,0.08], "format": ".2~f", "title": "alpha Model2-coefficients"}},
        "color": {"field": "s", "type": "nominal", "scale": {"domain": ["taste","health"], "range": ["#e3242b","#2020c8"]}, "legend": {"title": null, "labelExpr": "datum.label == 'taste' ? '\u03b2\u209c\u2090\u209b\u209c\u1d62\u2099\u2091\u209b\u209b' : '\u03b2\u2095\u2091\u2090\u2097\u209c\u2095\u1d62\u2099\u2091\u209b\u209b'"}}}},
      {"data": {"name": "S"}, "transform": [{"filter": "datum.p == 'a' && datum.s == 'taste'"}], "mark": {"type": "rule", "strokeWidth": 1.2, "color": "#ea8a8a"},
       "encoding": {"x": {"field": "t1", "type": "quantitative", "scale": {"domain": [-250, 1500], "nice": false, "zero": false}, "axis": {"orient": "top", "title": "NATURALFAST", "labels": false, "ticks": false, "domain": false}},
        "x2": {"field": "t2"},
        "y": {"field": "v", "type": "quantitative", "scale": {"domain": [-0.12, 0.08], "nice": false, "zero": false}, "axis": {"values": [-0.12,-0.1,-0.08,-0.06,-0.04,-0.02,0,0.02,0.04,0.06,0.08], "format": ".2~f", "title": "alpha Model2-coefficients"}}}}
     ]},
    {"width": 126, "height": 105, "title": {"text": "b"}, "resolve": {"axis": {"x": "independent"}},
     "layer": [
      {"data": {"name": "B"}, "transform": [{"filter": "datum.p == 'b' && datum.s == 'taste'"}], "mark": {"type": "area", "opacity": 0.3, "color": "#e8262b", "interpolate": "monotone", "clip": true},
       "encoding": {"x": {"field": "t", "type": "quantitative", "scale": {"domain": [-250, 1500], "nice": false, "zero": false}, "axis": {"orient": "bottom", "values": [-200,0,200,400,600,800,1000,1200,1400], "title": "Time (ms)"}},
        "y": {"field": "lo", "type": "quantitative", "scale": {"domain": [-0.16, 0.04], "nice": false, "zero": false}, "axis": {"values": [-0.16,-0.14,-0.12,-0.1,-0.08,-0.06,-0.04,-0.02,0,0.02,0.04], "format": ".2~f", "title": "alpha Model2-coefficients"}},
        "y2": {"field": "hi"}}},
      {"data": {"name": "B"}, "transform": [{"filter": "datum.p == 'b' && datum.s == 'health'"}], "mark": {"type": "area", "opacity": 0.3, "color": "#2b2bd6", "interpolate": "monotone", "clip": true},
       "encoding": {"x": {"field": "t", "type": "quantitative", "scale": {"domain": [-250, 1500], "nice": false, "zero": false}, "axis": null},
        "y": {"field": "lo", "type": "quantitative", "scale": {"domain": [-0.16, 0.04], "nice": false, "zero": false}, "axis": {"values": [-0.16,-0.14,-0.12,-0.1,-0.08,-0.06,-0.04,-0.02,0,0.02,0.04], "format": ".2~f", "title": "alpha Model2-coefficients"}},
        "y2": {"field": "hi"}}},
      {"data": {"name": "L"}, "transform": [{"filter": "datum.p == 'b'"}], "mark": {"type": "line", "strokeWidth": 1.1, "interpolate": "monotone", "clip": true},
       "encoding": {"x": {"field": "t", "type": "quantitative", "scale": {"domain": [-250, 1500], "nice": false, "zero": false}, "axis": null},
        "y": {"field": "v", "type": "quantitative", "scale": {"domain": [-0.16, 0.04], "nice": false, "zero": false}, "axis": {"values": [-0.16,-0.14,-0.12,-0.1,-0.08,-0.06,-0.04,-0.02,0,0.02,0.04], "format": ".2~f", "title": "alpha Model2-coefficients"}},
        "color": {"field": "s", "type": "nominal", "scale": {"domain": ["taste","health"], "range": ["#e3242b","#2020c8"]}, "legend": {"title": null, "labelExpr": "datum.label == 'taste' ? '\u03b2\u209c\u2090\u209b\u209c\u1d62\u2099\u2091\u209b\u209b' : '\u03b2\u2095\u2091\u2090\u2097\u209c\u2095\u1d62\u2099\u2091\u209b\u209b'"}}}},
      {"data": {"name": "S"}, "transform": [{"filter": "datum.p == 'b' && datum.s == 'taste'"}], "mark": {"type": "rule", "strokeWidth": 1.2, "color": "#ea8a8a"},
       "encoding": {"x": {"field": "t1", "type": "quantitative", "scale": {"domain": [-250, 1500], "nice": false, "zero": false}, "axis": {"orient": "top", "title": "NATURALSLOW", "labels": false, "ticks": false, "domain": false}},
        "x2": {"field": "t2"},
        "y": {"field": "v", "type": "quantitative", "scale": {"domain": [-0.16, 0.04], "nice": false, "zero": false}, "axis": {"values": [-0.16,-0.14,-0.12,-0.1,-0.08,-0.06,-0.04,-0.02,0,0.02,0.04], "format": ".2~f", "title": "alpha Model2-coefficients"}}}}
     ]}
   ], "spacing": 7, "resolve": {"scale": {"color": "independent"}}},
  {"title": {"text": "health-sensitive channels", "anchor": "middle", "frame": "bounds", "fontStyle": "italic", "fontSize": 9.5, "offset": 10},
   "hconcat": [
    {"width": 133, "height": 105, "title": {"text": "c"}, "resolve": {"axis": {"x": "independent"}},
     "layer": [
      {"data": {"name": "B"}, "transform": [{"filter": "datum.p == 'c' && datum.s == 'taste'"}], "mark": {"type": "area", "opacity": 0.3, "color": "#e8262b", "interpolate": "monotone", "clip": true},
       "encoding": {"x": {"field": "t", "type": "quantitative", "scale": {"domain": [-250, 1500], "nice": false, "zero": false}, "axis": {"orient": "bottom", "values": [-200,0,200,400,600,800,1000,1200,1400], "title": "Time (ms)"}},
        "y": {"field": "lo", "type": "quantitative", "scale": {"domain": [-0.15, 0.15], "nice": false, "zero": false}, "axis": {"values": [-0.15,-0.1,-0.05,0,0.05,0.1,0.15], "format": ".2~f", "title": "alpha Model2-coefficients"}},
        "y2": {"field": "hi"}}},
      {"data": {"name": "B"}, "transform": [{"filter": "datum.p == 'c' && datum.s == 'health'"}], "mark": {"type": "area", "opacity": 0.3, "color": "#2b2bd6", "interpolate": "monotone", "clip": true},
       "encoding": {"x": {"field": "t", "type": "quantitative", "scale": {"domain": [-250, 1500], "nice": false, "zero": false}, "axis": null},
        "y": {"field": "lo", "type": "quantitative", "scale": {"domain": [-0.15, 0.15], "nice": false, "zero": false}, "axis": {"values": [-0.15,-0.1,-0.05,0,0.05,0.1,0.15], "format": ".2~f", "title": "alpha Model2-coefficients"}},
        "y2": {"field": "hi"}}},
      {"data": {"name": "L"}, "transform": [{"filter": "datum.p == 'c'"}], "mark": {"type": "line", "strokeWidth": 1.1, "interpolate": "monotone", "clip": true},
       "encoding": {"x": {"field": "t", "type": "quantitative", "scale": {"domain": [-250, 1500], "nice": false, "zero": false}, "axis": null},
        "y": {"field": "v", "type": "quantitative", "scale": {"domain": [-0.15, 0.15], "nice": false, "zero": false}, "axis": {"values": [-0.15,-0.1,-0.05,0,0.05,0.1,0.15], "format": ".2~f", "title": "alpha Model2-coefficients"}},
        "color": {"field": "s", "type": "nominal", "scale": {"domain": ["taste","health"], "range": ["#e3242b","#2020c8"]}, "legend": {"title": null, "labelExpr": "datum.label == 'taste' ? '\u03b2\u209c\u2090\u209b\u209c\u1d62\u2099\u2091\u209b\u209b' : '\u03b2\u2095\u2091\u2090\u2097\u209c\u2095\u1d62\u2099\u2091\u209b\u209b'"}}}},
      {"data": {"name": "S"}, "transform": [{"filter": "datum.p == 'c' && datum.s == 'health'"}], "mark": {"type": "rule", "strokeWidth": 1.2, "color": "#7878e0"},
       "encoding": {"x": {"field": "t1", "type": "quantitative", "scale": {"domain": [-250, 1500], "nice": false, "zero": false}, "axis": {"orient": "top", "title": "HEALTHFAST", "labels": false, "ticks": false, "domain": false}},
        "x2": {"field": "t2"},
        "y": {"field": "v", "type": "quantitative", "scale": {"domain": [-0.15, 0.15], "nice": false, "zero": false}, "axis": {"values": [-0.15,-0.1,-0.05,0,0.05,0.1,0.15], "format": ".2~f", "title": "alpha Model2-coefficients"}}}}
     ]},
    {"width": 129, "height": 105, "title": {"text": "d"}, "resolve": {"axis": {"x": "independent"}},
     "layer": [
      {"data": {"name": "B"}, "transform": [{"filter": "datum.p == 'd' && datum.s == 'taste'"}], "mark": {"type": "area", "opacity": 0.3, "color": "#e8262b", "interpolate": "monotone", "clip": true},
       "encoding": {"x": {"field": "t", "type": "quantitative", "scale": {"domain": [-250, 1500], "nice": false, "zero": false}, "axis": {"orient": "bottom", "values": [-200,0,200,400,600,800,1000,1200,1400], "title": "Time (ms)"}},
        "y": {"field": "lo", "type": "quantitative", "scale": {"domain": [-0.12, 0.08], "nice": false, "zero": false}, "axis": {"values": [-0.12,-0.1,-0.08,-0.06,-0.04,-0.02,0,0.02,0.04,0.06,0.08], "format": ".2~f", "title": "alpha Model2-coefficients"}},
        "y2": {"field": "hi"}}},
      {"data": {"name": "B"}, "transform": [{"filter": "datum.p == 'd' && datum.s == 'health'"}], "mark": {"type": "area", "opacity": 0.3, "color": "#2b2bd6", "interpolate": "monotone", "clip": true},
       "encoding": {"x": {"field": "t", "type": "quantitative", "scale": {"domain": [-250, 1500], "nice": false, "zero": false}, "axis": null},
        "y": {"field": "lo", "type": "quantitative", "scale": {"domain": [-0.12, 0.08], "nice": false, "zero": false}, "axis": {"values": [-0.12,-0.1,-0.08,-0.06,-0.04,-0.02,0,0.02,0.04,0.06,0.08], "format": ".2~f", "title": "alpha Model2-coefficients"}},
        "y2": {"field": "hi"}}},
      {"data": {"name": "L"}, "transform": [{"filter": "datum.p == 'd'"}], "mark": {"type": "line", "strokeWidth": 1.1, "interpolate": "monotone", "clip": true},
       "encoding": {"x": {"field": "t", "type": "quantitative", "scale": {"domain": [-250, 1500], "nice": false, "zero": false}, "axis": {"orient": "top", "title": "HEALTHSLOW", "labels": false, "ticks": false, "domain": false}},
        "y": {"field": "v", "type": "quantitative", "scale": {"domain": [-0.12, 0.08], "nice": false, "zero": false}, "axis": {"values": [-0.12,-0.1,-0.08,-0.06,-0.04,-0.02,0,0.02,0.04,0.06,0.08], "format": ".2~f", "title": "alpha Model2-coefficients"}},
        "color": {"field": "s", "type": "nominal", "scale": {"domain": ["taste","health"], "range": ["#e3242b","#2020c8"]}, "legend": {"title": null, "labelExpr": "datum.label == 'taste' ? '\u03b2\u209c\u2090\u209b\u209c\u1d62\u2099\u2091\u209b\u209b' : '\u03b2\u2095\u2091\u2090\u2097\u209c\u2095\u1d62\u2099\u2091\u209b\u209b'"}}}}
     ]}
   ], "spacing": 7, "resolve": {"scale": {"color": "independent"}}}
 ], "spacing": 3, "resolve": {"scale": {"color": "independent"}}},
 {"hconcat": [
    {"width": 130, "height": 106, "title": {"text": "e", "offset": -10.5}, "resolve": {"axis": {"x": "independent"}},
     "layer": [
      {"data": {"name": "B"}, "transform": [{"filter": "datum.p == 'e' && datum.s == 'taste'"}], "mark": {"type": "area", "opacity": 0.3, "color": "#e8262b", "interpolate": "monotone", "clip": true},
       "encoding": {"x": {"field": "t", "type": "quantitative", "scale": {"domain": [-1000, 180], "nice": false, "zero": false}, "axis": {"orient": "bottom", "values": [-1000,-800,-600,-400,-200,0], "title": "Time (ms)"}},
        "y": {"field": "lo", "type": "quantitative", "scale": {"domain": [-0.12, 0.04], "nice": false, "zero": false}, "axis": {"values": [-0.12,-0.1,-0.08,-0.06,-0.04,-0.02,0,0.02,0.04], "format": ".2~f", "title": "alpha Model2-coefficients"}},
        "y2": {"field": "hi"}}},
      {"data": {"name": "B"}, "transform": [{"filter": "datum.p == 'e' && datum.s == 'health'"}], "mark": {"type": "area", "opacity": 0.3, "color": "#2b2bd6", "interpolate": "monotone", "clip": true},
       "encoding": {"x": {"field": "t", "type": "quantitative", "scale": {"domain": [-1000, 180], "nice": false, "zero": false}, "axis": null},
        "y": {"field": "lo", "type": "quantitative", "scale": {"domain": [-0.12, 0.04], "nice": false, "zero": false}, "axis": {"values": [-0.12,-0.1,-0.08,-0.06,-0.04,-0.02,0,0.02,0.04], "format": ".2~f", "title": "alpha Model2-coefficients"}},
        "y2": {"field": "hi"}}},
      {"data": {"name": "L"}, "transform": [{"filter": "datum.p == 'e'"}], "mark": {"type": "line", "strokeWidth": 1.1, "interpolate": "monotone", "clip": true},
       "encoding": {"x": {"field": "t", "type": "quantitative", "scale": {"domain": [-1000, 180], "nice": false, "zero": false}, "axis": null},
        "y": {"field": "v", "type": "quantitative", "scale": {"domain": [-0.12, 0.04], "nice": false, "zero": false}, "axis": {"values": [-0.12,-0.1,-0.08,-0.06,-0.04,-0.02,0,0.02,0.04], "format": ".2~f", "title": "alpha Model2-coefficients"}},
        "color": {"field": "s", "type": "nominal", "scale": {"domain": ["taste","health"], "range": ["#e3242b","#2020c8"]}, "legend": {"title": null, "labelExpr": "datum.label == 'taste' ? '\u03b2\u209c\u2090\u209b\u209c\u1d62\u2099\u2091\u209b\u209b' : '\u03b2\u2095\u2091\u2090\u2097\u209c\u2095\u1d62\u2099\u2091\u209b\u209b'"}}}},
      {"data": {"name": "S"}, "transform": [{"filter": "datum.p == 'e' && datum.s == 'taste'"}], "mark": {"type": "rule", "strokeWidth": 1.2, "color": "#ea8a8a"},
       "encoding": {"x": {"field": "t1", "type": "quantitative", "scale": {"domain": [-1000, 180], "nice": false, "zero": false}, "axis": {"orient": "top", "title": "NATURALFAST", "labels": false, "ticks": false, "domain": false}},
        "x2": {"field": "t2"},
        "y": {"field": "v", "type": "quantitative", "scale": {"domain": [-0.12, 0.04], "nice": false, "zero": false}, "axis": {"values": [-0.12,-0.1,-0.08,-0.06,-0.04,-0.02,0,0.02,0.04], "format": ".2~f", "title": "alpha Model2-coefficients"}}}},
      {"data": {"name": "S"}, "transform": [{"filter": "datum.p == 'e' && datum.s == 'health'"}], "mark": {"type": "rule", "strokeWidth": 1.2, "color": "#5a5ad0"},
       "encoding": {"x": {"field": "t1", "type": "quantitative", "scale": {"domain": [-1000, 180], "nice": false, "zero": false}, "axis": null},
        "x2": {"field": "t2"},
        "y": {"field": "v", "type": "quantitative", "scale": {"domain": [-0.12, 0.04], "nice": false, "zero": false}, "axis": {"values": [-0.12,-0.1,-0.08,-0.06,-0.04,-0.02,0,0.02,0.04], "format": ".2~f", "title": "alpha Model2-coefficients"}}}}
     ]},
    {"width": 130, "height": 106, "title": {"text": "f", "offset": -10.5}, "resolve": {"axis": {"x": "independent"}},
     "layer": [
      {"data": {"name": "B"}, "transform": [{"filter": "datum.p == 'f' && datum.s == 'taste'"}], "mark": {"type": "area", "opacity": 0.3, "color": "#e8262b", "interpolate": "monotone", "clip": true},
       "encoding": {"x": {"field": "t", "type": "quantitative", "scale": {"domain": [-1000, 180], "nice": false, "zero": false}, "axis": {"orient": "bottom", "values": [-1000,-800,-600,-400,-200,0], "title": "Time (ms)"}},
        "y": {"field": "lo", "type": "quantitative", "scale": {"domain": [-0.14, 0.04], "nice": false, "zero": false}, "axis": {"values": [-0.14,-0.12,-0.1,-0.08,-0.06,-0.04,-0.02,0,0.02,0.04], "format": ".2~f", "title": "alpha Model2-coefficients"}},
        "y2": {"field": "hi"}}},
      {"data": {"name": "B"}, "transform": [{"filter": "datum.p == 'f' && datum.s == 'health'"}], "mark": {"type": "area", "opacity": 0.3, "color": "#2b2bd6", "interpolate": "monotone", "clip": true},
       "encoding": {"x": {"field": "t", "type": "quantitative", "scale": {"domain": [-1000, 180], "nice": false, "zero": false}, "axis": null},
        "y": {"field": "lo", "type": "quantitative", "scale": {"domain": [-0.14, 0.04], "nice": false, "zero": false}, "axis": {"values": [-0.14,-0.12,-0.1,-0.08,-0.06,-0.04,-0.02,0,0.02,0.04], "format": ".2~f", "title": "alpha Model2-coefficients"}},
        "y2": {"field": "hi"}}},
      {"data": {"name": "L"}, "transform": [{"filter": "datum.p == 'f'"}], "mark": {"type": "line", "strokeWidth": 1.1, "interpolate": "monotone", "clip": true},
       "encoding": {"x": {"field": "t", "type": "quantitative", "scale": {"domain": [-1000, 180], "nice": false, "zero": false}, "axis": null},
        "y": {"field": "v", "type": "quantitative", "scale": {"domain": [-0.14, 0.04], "nice": false, "zero": false}, "axis": {"values": [-0.14,-0.12,-0.1,-0.08,-0.06,-0.04,-0.02,0,0.02,0.04], "format": ".2~f", "title": "alpha Model2-coefficients"}},
        "color": {"field": "s", "type": "nominal", "scale": {"domain": ["taste","health"], "range": ["#e3242b","#2020c8"]}, "legend": {"title": null, "labelExpr": "datum.label == 'taste' ? '\u03b2\u209c\u2090\u209b\u209c\u1d62\u2099\u2091\u209b\u209b' : '\u03b2\u2095\u2091\u2090\u2097\u209c\u2095\u1d62\u2099\u2091\u209b\u209b'"}}}},
      {"data": {"name": "S"}, "transform": [{"filter": "datum.p == 'f' && datum.s == 'taste'"}], "mark": {"type": "rule", "strokeWidth": 1.2, "color": "#ea8a8a"},
       "encoding": {"x": {"field": "t1", "type": "quantitative", "scale": {"domain": [-1000, 180], "nice": false, "zero": false}, "axis": {"orient": "top", "title": "NATURALSLOW", "labels": false, "ticks": false, "domain": false}},
        "x2": {"field": "t2"},
        "y": {"field": "v", "type": "quantitative", "scale": {"domain": [-0.14, 0.04], "nice": false, "zero": false}, "axis": {"values": [-0.14,-0.12,-0.1,-0.08,-0.06,-0.04,-0.02,0,0.02,0.04], "format": ".2~f", "title": "alpha Model2-coefficients"}}}},
      {"data": {"name": "S"}, "transform": [{"filter": "datum.p == 'f' && datum.s == 'health'"}], "mark": {"type": "rule", "strokeWidth": 1.2, "color": "#5a5ad0"},
       "encoding": {"x": {"field": "t1", "type": "quantitative", "scale": {"domain": [-1000, 180], "nice": false, "zero": false}, "axis": null},
        "x2": {"field": "t2"},
        "y": {"field": "v", "type": "quantitative", "scale": {"domain": [-0.14, 0.04], "nice": false, "zero": false}, "axis": {"values": [-0.14,-0.12,-0.1,-0.08,-0.06,-0.04,-0.02,0,0.02,0.04], "format": ".2~f", "title": "alpha Model2-coefficients"}}}}
     ]},
    {"width": 131, "height": 106, "title": {"text": "g", "offset": -10.5}, "resolve": {"axis": {"x": "independent"}},
     "layer": [
      {"data": {"name": "B"}, "transform": [{"filter": "datum.p == 'g' && datum.s == 'taste'"}], "mark": {"type": "area", "opacity": 0.3, "color": "#e8262b", "interpolate": "monotone", "clip": true},
       "encoding": {"x": {"field": "t", "type": "quantitative", "scale": {"domain": [-1000, 180], "nice": false, "zero": false}, "axis": {"orient": "bottom", "values": [-1000,-800,-600,-400,-200,0], "title": "Time (ms)"}},
        "y": {"field": "lo", "type": "quantitative", "scale": {"domain": [-0.15, 0.1], "nice": false, "zero": false}, "axis": {"values": [-0.15,-0.1,-0.05,0,0.05,0.1], "format": ".2~f", "title": "alpha Model2-coefficients"}},
        "y2": {"field": "hi"}}},
      {"data": {"name": "B"}, "transform": [{"filter": "datum.p == 'g' && datum.s == 'health'"}], "mark": {"type": "area", "opacity": 0.3, "color": "#2b2bd6", "interpolate": "monotone", "clip": true},
       "encoding": {"x": {"field": "t", "type": "quantitative", "scale": {"domain": [-1000, 180], "nice": false, "zero": false}, "axis": null},
        "y": {"field": "lo", "type": "quantitative", "scale": {"domain": [-0.15, 0.1], "nice": false, "zero": false}, "axis": {"values": [-0.15,-0.1,-0.05,0,0.05,0.1], "format": ".2~f", "title": "alpha Model2-coefficients"}},
        "y2": {"field": "hi"}}},
      {"data": {"name": "L"}, "transform": [{"filter": "datum.p == 'g'"}], "mark": {"type": "line", "strokeWidth": 1.1, "interpolate": "monotone", "clip": true},
       "encoding": {"x": {"field": "t", "type": "quantitative", "scale": {"domain": [-1000, 180], "nice": false, "zero": false}, "axis": null},
        "y": {"field": "v", "type": "quantitative", "scale": {"domain": [-0.15, 0.1], "nice": false, "zero": false}, "axis": {"values": [-0.15,-0.1,-0.05,0,0.05,0.1], "format": ".2~f", "title": "alpha Model2-coefficients"}},
        "color": {"field": "s", "type": "nominal", "scale": {"domain": ["taste","health"], "range": ["#e3242b","#2020c8"]}, "legend": {"title": null, "labelExpr": "datum.label == 'taste' ? '\u03b2\u209c\u2090\u209b\u209c\u1d62\u2099\u2091\u209b\u209b' : '\u03b2\u2095\u2091\u2090\u2097\u209c\u2095\u1d62\u2099\u2091\u209b\u209b'"}}}},
      {"data": {"name": "S"}, "transform": [{"filter": "datum.p == 'g' && datum.s == 'health'"}], "mark": {"type": "rule", "strokeWidth": 1.2, "color": "#5a5ad0"},
       "encoding": {"x": {"field": "t1", "type": "quantitative", "scale": {"domain": [-1000, 180], "nice": false, "zero": false}, "axis": {"orient": "top", "title": "HEALTHFAST", "labels": false, "ticks": false, "domain": false}},
        "x2": {"field": "t2"},
        "y": {"field": "v", "type": "quantitative", "scale": {"domain": [-0.15, 0.1], "nice": false, "zero": false}, "axis": {"values": [-0.15,-0.1,-0.05,0,0.05,0.1], "format": ".2~f", "title": "alpha Model2-coefficients"}}}}
     ]},
    {"width": 133, "height": 106, "title": {"text": "h", "offset": -10.5}, "resolve": {"axis": {"x": "independent"}},
     "layer": [
      {"data": {"name": "B"}, "transform": [{"filter": "datum.p == 'h' && datum.s == 'taste'"}], "mark": {"type": "area", "opacity": 0.3, "color": "#e8262b", "interpolate": "monotone", "clip": true},
       "encoding": {"x": {"field": "t", "type": "quantitative", "scale": {"domain": [-1000, 180], "nice": false, "zero": false}, "axis": {"orient": "bottom", "values": [-1000,-800,-600,-400,-200,0], "title": "Time (ms)"}},
        "y": {"field": "lo", "type": "quantitative", "scale": {"domain": [-0.12, 0.08], "nice": false, "zero": false}, "axis": {"values": [-0.12,-0.1,-0.08,-0.06,-0.04,-0.02,0,0.02,0.04,0.06,0.08], "format": ".2~f", "title": "alpha Model2-coefficients"}},
        "y2": {"field": "hi"}}},
      {"data": {"name": "B"}, "transform": [{"filter": "datum.p == 'h' && datum.s == 'health'"}], "mark": {"type": "area", "opacity": 0.3, "color": "#2b2bd6", "interpolate": "monotone", "clip": true},
       "encoding": {"x": {"field": "t", "type": "quantitative", "scale": {"domain": [-1000, 180], "nice": false, "zero": false}, "axis": null},
        "y": {"field": "lo", "type": "quantitative", "scale": {"domain": [-0.12, 0.08], "nice": false, "zero": false}, "axis": {"values": [-0.12,-0.1,-0.08,-0.06,-0.04,-0.02,0,0.02,0.04,0.06,0.08], "format": ".2~f", "title": "alpha Model2-coefficients"}},
        "y2": {"field": "hi"}}},
      {"data": {"name": "L"}, "transform": [{"filter": "datum.p == 'h'"}], "mark": {"type": "line", "strokeWidth": 1.1, "interpolate": "monotone", "clip": true},
       "encoding": {"x": {"field": "t", "type": "quantitative", "scale": {"domain": [-1000, 180], "nice": false, "zero": false}, "axis": {"orient": "top", "title": "HEALTHSLOW", "labels": false, "ticks": false, "domain": false}},
        "y": {"field": "v", "type": "quantitative", "scale": {"domain": [-0.12, 0.08], "nice": false, "zero": false}, "axis": {"values": [-0.12,-0.1,-0.08,-0.06,-0.04,-0.02,0,0.02,0.04,0.06,0.08], "format": ".2~f", "title": "alpha Model2-coefficients"}},
        "color": {"field": "s", "type": "nominal", "scale": {"domain": ["taste","health"], "range": ["#e3242b","#2020c8"]}, "legend": {"title": null, "labelExpr": "datum.label == 'taste' ? '\u03b2\u209c\u2090\u209b\u209c\u1d62\u2099\u2091\u209b\u209b' : '\u03b2\u2095\u2091\u2090\u2097\u209c\u2095\u1d62\u2099\u2091\u209b\u209b'"}}}}
     ]}
 ], "spacing": 4, "resolve": {"scale": {"color": "independent"}}}
],
"spacing": 2,
"resolve": {"scale": {"color": "independent"}}
}
